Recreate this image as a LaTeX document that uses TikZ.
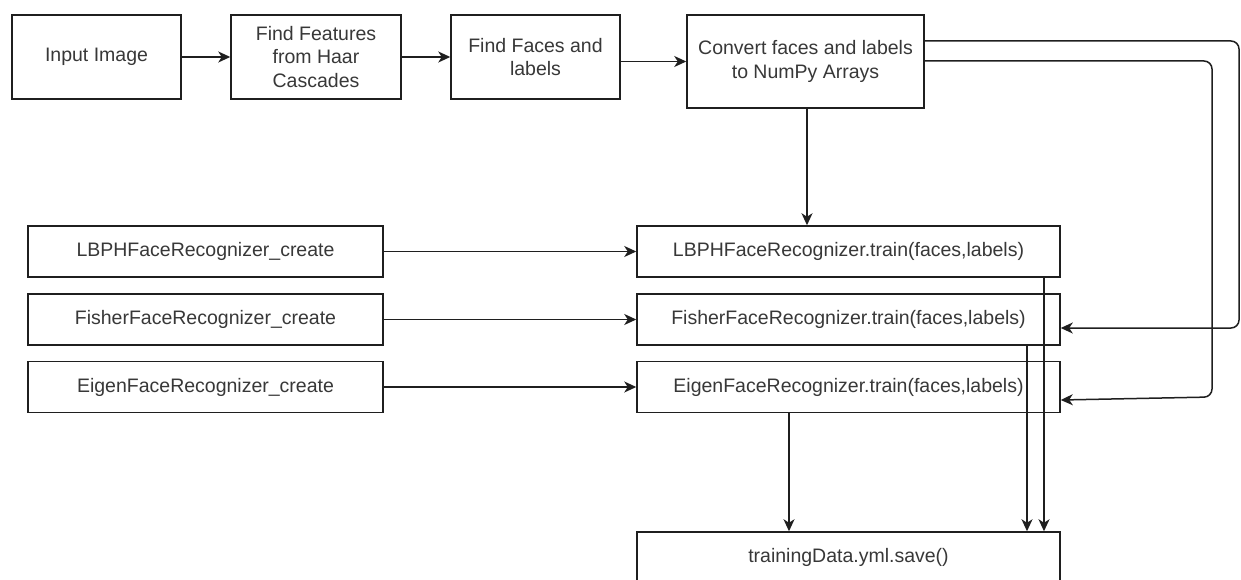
\documentclass[tikz,border=0pt]{standalone}
\usepackage{fontspec}
\setmainfont{Liberation Sans}
\usetikzlibrary{arrows.meta}
\begin{document}
\begin{tikzpicture}[x=1pt,y=-1pt,
  box/.style={draw=black!88, line width=1.5pt, fill=white, inner sep=0pt,
    align=center, text=black!78, font=\fontsize{19.5}{23.5}\selectfont},
  arr/.style={draw=black!88, line width=1.5pt,
    -{Stealth[length=12pt,width=11pt,inset=3.5pt]}},
  loop/.style={arr, rounded corners=8pt}
]
\useasboundingbox (0,0) rectangle (1241,580);
\clip (0,0) rectangle (1241,580);
\fill[white] (0,0) rectangle (1241,580);

% top row
\node[box, minimum width=169pt, minimum height=84pt] (in)    at (96.5,57)   {Input Image};
\node[box, minimum width=170pt, minimum height=84pt] (feat)  at (316,57)    {Find Features\\from Haar\\Cascades};
\node[box, minimum width=169pt, minimum height=84pt] (faces) at (535.5,57)  {Find Faces and\\labels};
\node[box, minimum width=237pt, minimum height=93pt] (conv)  at (805.5,61.5){Convert faces and labels\\to NumPy Arrays};

% recognizer creation
\node[box, minimum width=355pt, minimum height=51pt] (lc1) at (205.5,251.5) {LBPHFaceRecognizer\_create};
\node[box, minimum width=355pt, minimum height=51pt] (lc2) at (205.5,319.5) {FisherFaceRecognizer\_create};
\node[box, minimum width=355pt, minimum height=51pt] (lc3) at (205.5,387)   {EigenFaceRecognizer\_create};

% training
\node[box, minimum width=423pt, minimum height=51pt] (t1) at (848.5,251.5) {LBPHFaceRecognizer.train(faces,labels)};
\node[box, minimum width=423pt, minimum height=51pt] (t2) at (848.5,319.5) {FisherFaceRecognizer.train(faces,labels)};
\node[box, minimum width=423pt, minimum height=51pt] (t3) at (848.5,387)   {EigenFaceRecognizer.train(faces,labels)};

% saving
\node[box, minimum width=423pt, minimum height=51pt] (save) at (848.5,557.5) {trainingData.yml.save()};

% routing points
\coordinate (xd) at (807,0);
\coordinate (o1) at (1239,41);
\coordinate (o2) at (1239,328);
\coordinate (i1) at (1212,61);
\coordinate (i2) at (1212,397);
\coordinate (i3) at (0,400);
\coordinate (x3) at (789,0);
\coordinate (x2) at (1027,0);
\coordinate (x1) at (1044,0);

% connectors
\draw[arr] (in.east) -- (feat.west);
\draw[arr] (feat.east) -- (faces.west);
\draw[arr] (faces.east |- conv.west) -- (conv.west);
\draw[arr] (conv.south -| xd) -- (t1.north -| xd);

\draw[arr] (lc1.east) -- (t1.west);
\draw[arr] (lc2.east) -- (t2.west);
\draw[arr] (lc3.east) -- (t3.west);

\draw[loop] (conv.east |- o1) -- (o1) -- (o2) -- (t2.east |- o2);
\draw[loop] (conv.east |- i1) -- (i1) -- (i2) -- (t3.east |- i3);

\draw[arr] (t3.south -| x3) -- (save.north -| x3);
\draw[arr] (t2.south -| x2) -- (save.north -| x2);
\draw[arr] (t1.south -| x1) -- (save.north -| x1);
\end{tikzpicture}
\end{document}
